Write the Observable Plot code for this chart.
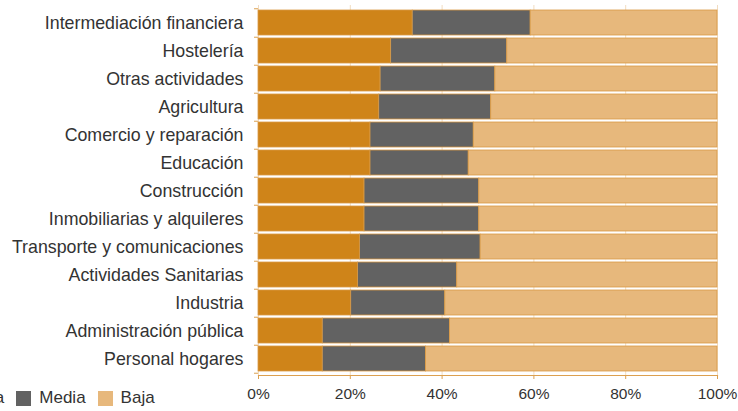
<!DOCTYPE html>
<html>
<head>
<meta charset="utf-8">
<script src="https://cdn.jsdelivr.net/npm/d3@7"></script>
<script src="https://cdn.jsdelivr.net/npm/@observablehq/plot@0.6"></script>
<style>
  html, body { margin: 0; padding: 0; background: #fff; }
  #wrap { position: relative; width: 738px; height: 411px; overflow: hidden; font-family: "Liberation Sans", Arial, Helvetica, sans-serif; }
  #legend { position: absolute; left: -48px; top: 388px; display: flex; align-items: center; font-size: 17px; color: #333; white-space: nowrap; }
  #legend .sw { width: 15px; height: 15px; display: inline-block; margin-right: 8px; }
  #legend .it { display: flex; align-items: center; margin-right: 12px; }
</style>
</head>
<body>
<div id="wrap"><div id="chart"></div><div id="legend"></div></div>
<script>
const categories = [
  "Intermediación financiera", "Hostelería", "Otras actividades", "Agricultura",
  "Comercio y reparación", "Educación", "Construcción", "Inmobiliarias y alquileres",
  "Transporte y comunicaciones", "Actividades Sanitarias", "Industria",
  "Administración pública", "Personal hogares"
];
const seriesNames = ["Alta", "Media", "Baja"];
const alta  = [33.6, 28.9, 26.6, 26.3, 24.4, 24.4, 23.1, 23.1, 22.1, 21.7, 20.2, 14.0, 14.0];
const media = [25.7, 25.3, 25.0, 24.4, 22.5, 21.4, 25.0, 25.0, 26.3, 21.6, 20.5, 27.7, 22.5];
const baja  = [40.7, 45.8, 48.4, 49.3, 53.1, 54.2, 51.9, 51.9, 51.6, 56.7, 59.3, 58.3, 63.5];
const xTicks = [0, 20, 40, 60, 80, 100];
const colors = ["#cf8419", "#626262", "#e7b87c"];

const valuesBySeries = [alta, media, baja];
const data = [];
categories.forEach((c, i) => {
  seriesNames.forEach((s, j) => data.push({cat: c, series: s, value: valuesBySeries[j][i]}));
});

const H = 411, MT = 5, MB = 36;
const halfStep = (H - MT - MB) / categories.length / 2;

const chart = Plot.plot({
  width: 738,
  height: H,
  marginLeft: 258,
  marginRight: 21,
  marginTop: MT,
  marginBottom: MB,
  style: {fontFamily: '"Liberation Sans", Arial, Helvetica, sans-serif', fontSize: "17.8px", color: "#333", background: "transparent"},
  x: {domain: [0, 100], ticks: xTicks, tickFormat: d => d + "%", label: null},
  y: {domain: categories, padding: 0.12, label: null},
  color: {domain: seriesNames, range: colors},
  marks: [
    Plot.ruleX(xTicks, {stroke: "#f1dcc0", strokeWidth: 1}),
    Plot.barX(data, {x: "value", y: "cat", fill: "series", stroke: "#d99a45", strokeWidth: 0.8}),
    Plot.frame({anchor: "bottom", stroke: "#dca050", strokeWidth: 1.2}),
    Plot.axisX({ticks: xTicks, tickFormat: d => d + "%", tickSize: 4, tickPadding: 8, stroke: "#dca050", color: "#333", fontSize: 15.5, label: null}),
    Plot.axisY({tickSize: 0, tickPadding: 15, label: null, color: "#333"}),
    Plot.axisY({tickSize: 4, tickFormat: () => "", dy: halfStep, stroke: "#dca050", label: null}),
    Plot.axisY([categories[0]], {tickSize: 4, tickFormat: () => "", dy: -halfStep, stroke: "#dca050", label: null})
  ]
});
document.getElementById("chart").appendChild(chart);

const legend = document.getElementById("legend");
seriesNames.forEach((s, i) => {
  const it = document.createElement("span");
  it.className = "it";
  const sw = document.createElement("span");
  sw.className = "sw";
  sw.style.background = colors[i];
  it.appendChild(sw);
  it.appendChild(document.createTextNode(s));
  legend.appendChild(it);
});
</script>
</body>
</html>
